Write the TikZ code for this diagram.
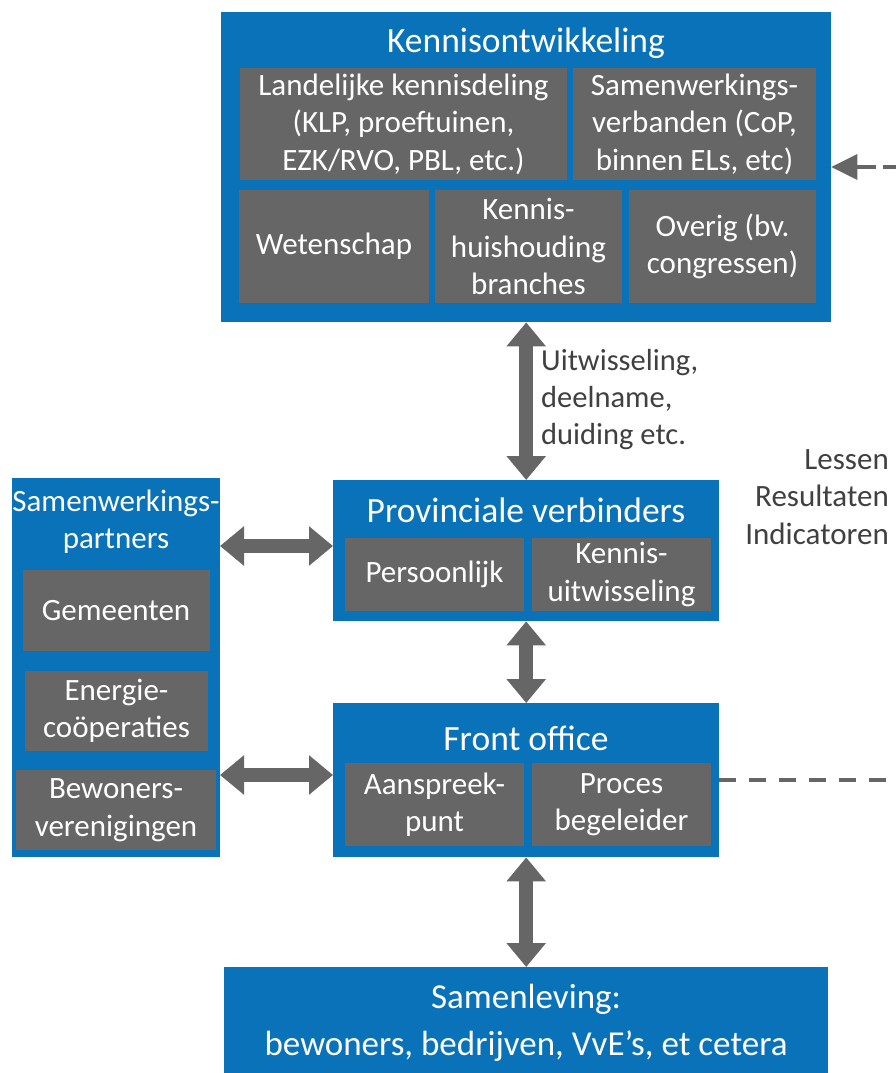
\documentclass[tikz,border=0pt]{standalone}
\usepackage{fontspec}
\setmainfont{Carlito}
\usetikzlibrary{arrows.meta}
\definecolor{kblue}{HTML}{0A72B8}
\definecolor{kgray}{HTML}{666666}
\definecolor{ktext}{HTML}{404040}
\definecolor{karrow}{HTML}{666666}
\begin{document}
\begin{tikzpicture}[x=1pt,y=-1pt,
  bluebox/.style={fill=kblue,draw=none,anchor=north west,inner sep=0pt},
  graybox/.style={fill=kgray,draw=none,anchor=center,inner sep=0pt,text=white,align=center,font=\fontsize{31}{37.5}\selectfont},
  title/.style={text=white,align=center,inner sep=0pt,font=\fontsize{35.5}{37}\selectfont},
  note/.style={text=ktext,inner sep=0pt,font=\fontsize{31}{37.5}\selectfont},
  bigarrow/.style={draw=karrow,line width=14pt,{Triangle[width=38pt,length=24pt]}-{Triangle[width=38pt,length=24pt]}},
  dashline/.style={draw=karrow,line width=4pt,dash pattern=on 17pt off 13pt}
]
\useasboundingbox (0,0) rectangle (896,1073);
\fill[white] (0,0) rectangle (896,1073);

% Kennisontwikkeling
\node[bluebox,minimum width=610pt,minimum height=310pt] (top) at (221,12) {};
\node[title] (toptitle) at (526,43) {Kennisontwikkeling};
\node[graybox,minimum width=327pt,minimum height=112pt] (lk) at (403.5,124) {Landelijke kennisdeling\\(KLP, proeftuinen,\\EZK/RVO, PBL, etc.)};
\node[graybox,minimum width=243pt,minimum height=112pt] (sv) at (694.5,124) {Samenwerkings-\\verbanden (CoP,\\binnen ELs, etc)};
\node[graybox,minimum width=190pt,minimum height=113pt] (wet) at (334,246.5) {Wetenschap};
\node[graybox,minimum width=187pt,minimum height=113pt] (khb) at (528.5,246.5) {Kennis-\\huishouding\\branches};
\node[graybox,minimum width=187pt,minimum height=113pt] (ov) at (722.5,246.5) {Overig (bv.\\congressen)};

% Provinciale verbinders
\node[bluebox,minimum width=386pt,minimum height=141pt] (prov) at (333,480) {};
\node[title] (provtitle) at (526,510) {Provinciale verbinders};
\node[graybox,minimum width=179pt,minimum height=73pt] (pers) at (434.5,574.5) {Persoonlijk};
\node[graybox,minimum width=179pt,minimum height=73pt] (kuit) at (621.5,574.5) {Kennis-\\uitwisseling};

% Front office
\node[bluebox,minimum width=386pt,minimum height=154pt] (front) at (333,703) {};
\node[title] (fronttitle) at (526,738) {Front office};
\node[graybox,minimum width=179pt,minimum height=83pt] (aan) at (434.5,804.5) {Aanspreek-\\punt};
\node[graybox,minimum width=179pt,minimum height=83pt] (proc) at (621.5,804.5) {Proces\\begeleider};

% Samenwerkingspartners
\node[bluebox,minimum width=208pt,minimum height=379pt] (sp) at (12,478) {};
\node[title,font=\fontsize{31}{37}\selectfont] (sptitle) at (116,522) {Samenwerkings-\\partners};
\node[graybox,minimum width=187pt,minimum height=81pt] (gem) at (116,610.5) {Gemeenten};
\node[graybox,minimum width=183pt,minimum height=80pt] (eng) at (116.5,711) {Energie-\\coöperaties};
\node[graybox,minimum width=200pt,minimum height=80pt] (bew) at (116,810) {Bewoners-\\verenigingen};

% Samenleving
\node[bluebox,minimum width=604pt,minimum height=106pt] (sam) at (224,967) {};
\node[title,font=\fontsize{35}{47}\selectfont] (samtitle) at (526,1023) {Samenleving:\\bewoners, bedrijven, VvE’s, et cetera};

% texts
\node[note,anchor=west,align=left,font=\fontsize{30.5}{37}\selectfont] (uit) at (541,400) {Uitwisseling,\\deelname,\\duiding etc.};
\node[note,anchor=east,align=right] (les) at (889,497) {Lessen\\Resultaten\\Indicatoren};

% arrows
\draw[bigarrow] (top.south) -- (prov.north);
\draw[bigarrow] (prov.south) -- (front.north);
\draw[bigarrow] (front.south) -- (sam.north);
\coordinate (a1) at (220,546);
\coordinate (a2) at (220,775);
\draw[bigarrow] (a1) -- (prov.west |- a1);
\draw[bigarrow] (a2) -- (front.west |- a2);

% dashed feedback
\coordinate (fe) at (896,780);
\draw[dashline] (front.east |- fe) -- (fe);
\coordinate (te) at (900,167);
\coordinate (th) at (855,167);
\draw[dashline] (te) -- (th);
\fill[karrow] (top.east |- te) -- ++(26,-13) -- ++(0,26) -- cycle;
\draw[draw=karrow,line width=4pt] (857,167) -- (876,167);
\end{tikzpicture}
\end{document}
